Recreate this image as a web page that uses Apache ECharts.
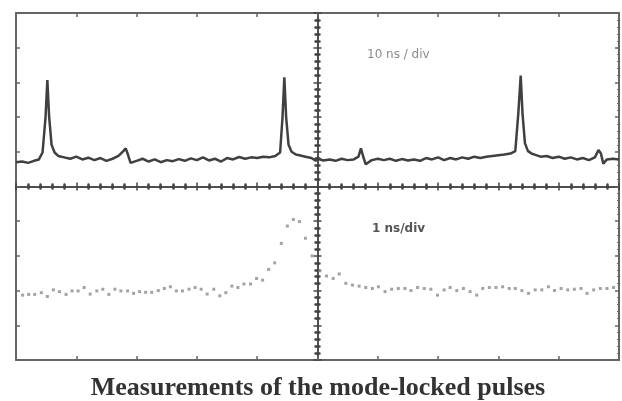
<!DOCTYPE html>
<html lang="en">
<head>
<meta charset="UTF-8" />
<title>Mode-locked pulses</title>
<script src="https://cdn.jsdelivr.net/npm/echarts@6/dist/echarts.min.js"></script>
<style>
    * { margin: 0; }
    #chart { width: 622px; height: 401px; background: #fff; }
</style>
</head>
<body>
<div id="chart"></div>
<script>
    // time in screen divisions (-5..5), amplitude in divisions (-5..5)
    const upperTrace = [
        [-5.0, 0.70], [-4.9, 0.72], [-4.8, 0.68], [-4.7, 0.74], [-4.62, 0.78], [-4.56, 0.98],
        [-4.51, 2.0], [-4.48, 3.07], [-4.45, 2.0], [-4.41, 1.2], [-4.36, 0.98], [-4.3, 0.88],
        [-4.2, 0.84], [-4.1, 0.80], [-4.0, 0.86], [-3.9, 0.78], [-3.8, 0.83], [-3.7, 0.76],
        [-3.6, 0.82], [-3.5, 0.74], [-3.4, 0.80], [-3.3, 0.88], [-3.22, 1.02], [-3.18, 1.1],
        [-3.14, 0.9], [-3.1, 0.68], [-3.0, 0.74], [-2.9, 0.80], [-2.8, 0.72], [-2.7, 0.78],
        [-2.6, 0.70], [-2.5, 0.76], [-2.4, 0.73], [-2.3, 0.79], [-2.2, 0.74], [-2.1, 0.81],
        [-2.0, 0.76], [-1.9, 0.84], [-1.8, 0.75], [-1.7, 0.80], [-1.6, 0.72], [-1.5, 0.82],
        [-1.4, 0.78], [-1.3, 0.85], [-1.2, 0.80], [-1.1, 0.84], [-1.0, 0.82], [-0.9, 0.86],
        [-0.8, 0.84], [-0.7, 0.88], [-0.62, 0.98], [-0.58, 2.0], [-0.55, 3.15], [-0.52, 2.0],
        [-0.48, 1.2], [-0.43, 1.0], [-0.36, 0.92], [-0.3, 0.90], [-0.2, 0.86], [-0.1, 0.82],
        [-0.03, 0.74], [0.0, 0.80], [0.1, 0.75], [0.2, 0.78], [0.3, 0.74], [0.4, 0.80],
        [0.5, 0.76], [0.6, 0.78], [0.68, 0.86], [0.72, 1.1], [0.76, 0.85], [0.8, 0.64],
        [0.9, 0.76], [1.0, 0.80], [1.1, 0.76], [1.2, 0.80], [1.3, 0.74], [1.4, 0.79],
        [1.5, 0.75], [1.6, 0.78], [1.7, 0.74], [1.8, 0.82], [1.9, 0.78], [2.0, 0.84],
        [2.1, 0.76], [2.2, 0.82], [2.3, 0.78], [2.4, 0.84], [2.5, 0.80], [2.6, 0.86],
        [2.7, 0.82], [2.8, 0.86], [2.9, 0.88], [3.0, 0.90], [3.1, 0.92], [3.2, 0.95],
        [3.28, 1.02], [3.33, 2.1], [3.37, 3.2], [3.40, 2.1], [3.44, 1.25], [3.49, 1.02],
        [3.56, 0.94], [3.6, 0.92], [3.7, 0.86], [3.8, 0.88], [3.9, 0.82], [4.0, 0.86],
        [4.1, 0.80], [4.2, 0.84], [4.3, 0.78], [4.4, 0.82], [4.5, 0.76], [4.6, 0.84],
        [4.66, 1.05], [4.7, 0.95], [4.74, 0.66], [4.8, 0.78], [4.9, 0.80], [5.0, 0.78]
    ];

    const lowerLeft = [
        [-4.89, -3.13], [-4.79, -3.11], [-4.69, -3.11], [-4.58, -3.06], [-4.48, -3.17], [-4.38, -2.98],
        [-4.28, -3.03], [-4.17, -3.11], [-4.07, -3.01], [-3.97, -3.01], [-3.87, -2.91], [-3.77, -3.10],
        [-3.66, -3.01], [-3.56, -2.96], [-3.46, -3.11], [-3.36, -2.96], [-3.26, -3.01], [-3.15, -3.01],
        [-3.05, -3.08], [-2.95, -3.03], [-2.85, -3.05], [-2.75, -3.05], [-2.64, -3.00], [-2.54, -2.94],
        [-2.44, -2.89], [-2.34, -3.01], [-2.24, -3.01], [-2.13, -2.96], [-2.03, -2.91], [-1.93, -2.96],
        [-1.83, -3.10], [-1.72, -2.96], [-1.62, -3.15], [-1.52, -3.06], [-1.42, -2.87], [-1.32, -2.91],
        [-1.22, -2.81], [-1.11, -2.81], [-1.01, -2.65], [-0.91, -2.70], [-0.81, -2.39], [-0.71, -2.20],
        [-0.60, -1.64], [-0.50, -1.14], [-0.40, -0.95], [-0.30, -1.01], [-0.20, -1.49], [-0.09, -2.00]
    ];

    const lowerRight = [
        [0.04, -2.43], [0.15, -2.58], [0.26, -2.65], [0.36, -2.52], [0.47, -2.79], [0.58, -2.84],
        [0.69, -2.87], [0.80, -2.91], [0.91, -2.94], [1.01, -2.89], [1.12, -3.03], [1.23, -2.96],
        [1.34, -2.94], [1.45, -2.94], [1.55, -3.00], [1.66, -2.91], [1.77, -2.94], [1.88, -2.96],
        [1.99, -3.13], [2.10, -2.98], [2.20, -2.91], [2.31, -3.00], [2.42, -2.94], [2.53, -3.03],
        [2.64, -3.13], [2.74, -2.94], [2.85, -2.91], [2.96, -2.91], [3.07, -2.89], [3.18, -2.94],
        [3.28, -2.94], [3.39, -3.00], [3.50, -3.08], [3.61, -2.98], [3.72, -2.98], [3.83, -2.89],
        [3.93, -3.00], [4.04, -2.94], [4.15, -2.98], [4.26, -2.96], [4.37, -2.94], [4.47, -3.08],
        [4.58, -2.98], [4.69, -2.94], [4.80, -2.94], [4.91, -2.91]
    ];

    const upperLabel = "10 ns / div";
    const lowerLabel = "1 ns/div";
    const caption = "Measurements of the mode-locked pulses";

    const chart = echarts.init(document.getElementById("chart"));

    const frame = "#666";
    const cross = "#444";

    // centre graticule: axis line on zero with ticks on both sides
    function crossAxis(pos, grid) {
        return {
            gridIndex: grid, type: "value", position: pos, min: -5, max: 5, interval: 1,
            axisLine: { show: true, onZero: true, lineStyle: { color: cross, width: 1.5 } },
            axisTick: { show: true, inside: false, length: 4, lineStyle: { color: cross, width: 1.5 } },
            minorTick: { show: true, splitNumber: 5, length: 2, lineStyle: { color: cross, width: 2.5, cap: "round" } },
            axisLabel: { show: false },
            splitLine: { show: false },
        };
    }

    // outer frame with inward ticks
    function frameAxis(pos, grid, minor) {
        return {
            gridIndex: grid, type: "value", position: pos, min: -5, max: 5, interval: 1,
            axisLine: { show: true, onZero: false, lineStyle: { color: frame, width: 2 } },
            axisTick: { show: true, inside: true, length: 4, lineStyle: { color: frame, width: 1.5 } },
            minorTick: { show: minor, splitNumber: 5, length: 2, lineStyle: { color: frame, width: 1 } },
            axisLabel: { show: false },
            splitLine: { show: false },
        };
    }

    const option = {
        animation: false,
        backgroundColor: "#fff",
        grid: [
            { left: 16, right: 3, top: 13, bottom: 41 },
            { left: 16, right: 3, top: 13, bottom: 41 },
        ],
        xAxis: [
            crossAxis("bottom", 0), crossAxis("top", 0),
            frameAxis("bottom", 1, false), frameAxis("top", 1, false),
        ],
        yAxis: [
            crossAxis("left", 0), crossAxis("right", 0),
            frameAxis("left", 1, false), frameAxis("right", 1, true),
        ],
        graphic: [
            {
                type: "text", left: 367, top: 49,
                style: { text: upperLabel, font: "12px 'DejaVu Sans'", fill: "#8a8a8a" },
            },
            {
                type: "text", left: 372, top: 223,
                style: { text: lowerLabel, font: "bold 12px 'DejaVu Sans'", fill: "#555" },
            },
            {
                type: "text", x: 318, y: 388,
                style: {
                    text: caption, font: "bold 26px 'Liberation Serif'", fill: "#333",
                    align: "center", verticalAlign: "middle",
                },
            },
        ],
        series: [
            {
                type: "line", xAxisIndex: 0, yAxisIndex: 0, data: upperTrace,
                showSymbol: false, smooth: false,
                lineStyle: { color: "#404040", width: 2.5 },
            },
            {
                type: "scatter", xAxisIndex: 0, yAxisIndex: 0, data: lowerLeft,
                symbol: "rect", symbolSize: 3, itemStyle: { color: "#8c8c8c" },
            },
            {
                type: "scatter", xAxisIndex: 0, yAxisIndex: 0, data: lowerRight,
                symbol: "rect", symbolSize: 3, itemStyle: { color: "#8c8c8c" },
            },
        ],
    };

    chart.setOption(option);
</script>
</body>
</html>
